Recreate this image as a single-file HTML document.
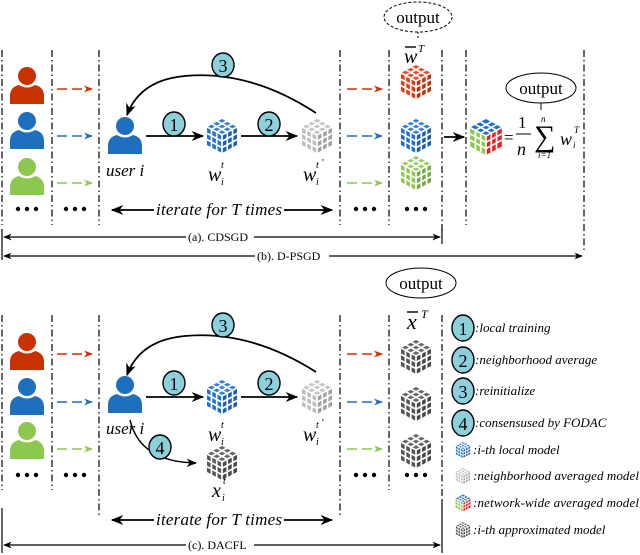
<!DOCTYPE html>
<html><head><meta charset="utf-8"><style>
html,body{margin:0;padding:0;background:#fff;}
svg{display:block;font-family:"Liberation Serif","Times New Roman",serif;}
text{font-family:"Liberation Serif","Times New Roman",serif;}
.it{font-style:italic;}
</style></head><body>
<svg width="640" height="555" viewBox="0 0 640 555" xmlns="http://www.w3.org/2000/svg">
<defs>
<symbol id="cube" viewBox="-16 -18 32 36">
<polygon points="0,-17 15,-9 0,-1 -15,-9" fill="currentColor"/>
<polygon points="-15,-9 0,-1 0,17 -15,9" fill="currentColor"/>
<polygon points="0,-1 15,-9 15,9 0,17" fill="currentColor"/>
<polygon points="0,-1 15,-9 15,9 0,17" fill="#000" opacity="0.15"/>
<polygon points="0,-17 15,-9 0,-1 -15,-9" fill="#fff" opacity="0.12"/>
<g stroke="#fff" stroke-width="1.6" fill="none">
<line x1="-5" y1="-14.33" x2="10" y2="-6.33"/><line x1="-10" y1="-11.67" x2="5" y2="-3.67"/>
<line x1="5" y1="-14.33" x2="-10" y2="-6.33"/><line x1="10" y1="-11.67" x2="-5" y2="-3.67"/>
<line x1="-10" y1="-6.33" x2="-10" y2="11.67"/><line x1="-5" y1="-3.67" x2="-5" y2="14.33"/>
<line x1="-15" y1="-3" x2="0" y2="5"/><line x1="-15" y1="3" x2="0" y2="11"/>
<line x1="5" y1="-3.67" x2="5" y2="14.33"/><line x1="10" y1="-6.33" x2="10" y2="11.67"/>
<line x1="0" y1="5" x2="15" y2="-3"/><line x1="0" y1="11" x2="15" y2="3"/>
<polygon points="0,-17 15,-9 15,9 0,17 -15,9 -15,-9"/><polyline points="-15,-9 0,-1 15,-9"/><line x1="0" y1="-1" x2="0" y2="17"/>
</g>
</symbol>
<symbol id="mcube" viewBox="-16 -18 32 36">
<polygon points="0,-17 15,-9 0,-1 -15,-9" fill="#1f6fd0"/>
<polygon points="-15,-9 0,-1 0,17 -15,9" fill="#8cc850"/>
<polygon points="0,-1 15,-9 15,9 0,17" fill="#e82020"/>
<g stroke="#fff" stroke-width="1.6" fill="none">
<line x1="-5" y1="-14.33" x2="10" y2="-6.33"/><line x1="-10" y1="-11.67" x2="5" y2="-3.67"/>
<line x1="5" y1="-14.33" x2="-10" y2="-6.33"/><line x1="10" y1="-11.67" x2="-5" y2="-3.67"/>
<line x1="-10" y1="-6.33" x2="-10" y2="11.67"/><line x1="-5" y1="-3.67" x2="-5" y2="14.33"/>
<line x1="-15" y1="-3" x2="0" y2="5"/><line x1="-15" y1="3" x2="0" y2="11"/>
<line x1="5" y1="-3.67" x2="5" y2="14.33"/><line x1="10" y1="-6.33" x2="10" y2="11.67"/>
<line x1="0" y1="5" x2="15" y2="-3"/><line x1="0" y1="11" x2="15" y2="3"/>
<polyline points="-15,-9 0,-1 15,-9"/><line x1="0" y1="-1" x2="0" y2="17"/>
</g>
</symbol>
<symbol id="person" viewBox="0 0 36 38">
<circle cx="18" cy="10" r="9" fill="currentColor"/>
<path d="M1,38 L1,30 Q1,21 10,19 Q18,24 26,19 Q35,21 35,30 L35,38 Z" fill="currentColor"/>
</symbol>
<marker id="ah" viewBox="0 0 10 10" refX="9" refY="5" markerWidth="7" markerHeight="7" orient="auto"><path d="M0,1 L10,5 L0,9 L3,5 Z" fill="#000"/></marker>
<marker id="ahs" viewBox="0 0 10 10" refX="1" refY="5" markerWidth="7" markerHeight="7" orient="auto"><path d="M10,1 L0,5 L10,9 L7,5 Z" fill="#000"/></marker>
<marker id="ar" viewBox="0 0 10 10" refX="9" refY="5" markerWidth="6" markerHeight="6" orient="auto"><path d="M0,1 L10,5 L0,9 L3,5 Z" fill="#d03000"/></marker>
<marker id="ab" viewBox="0 0 10 10" refX="9" refY="5" markerWidth="6" markerHeight="6" orient="auto"><path d="M0,1 L10,5 L0,9 L3,5 Z" fill="#1f6fbf"/></marker>
<marker id="ag" viewBox="0 0 10 10" refX="9" refY="5" markerWidth="6" markerHeight="6" orient="auto"><path d="M0,1 L10,5 L0,9 L3,5 Z" fill="#8cc850"/></marker>
<g id="dots"><circle cx="0" cy="0" r="2.2"/><circle cx="9" cy="0" r="2.2"/><circle cx="18" cy="0" r="2.2"/></g>
</defs>

<!-- ===== TOP PANEL ===== -->
<g stroke="#000" stroke-width="1.2" stroke-dasharray="7,3,1.5,3" fill="none">
<line x1="2" y1="50" x2="2" y2="225"/><line x1="52" y1="50" x2="52" y2="225"/><line x1="99" y1="50" x2="99" y2="225"/>
<line x1="340" y1="50" x2="340" y2="225"/><line x1="389" y1="50" x2="389" y2="225"/><line x1="442" y1="50" x2="442" y2="232"/>
<line x1="466" y1="50" x2="466" y2="225"/><line x1="584" y1="50" x2="584" y2="250"/>
</g>
<use href="#person" x="9" y="66" width="36" height="38" color="#c83200"/>
<use href="#person" x="9" y="111" width="36" height="38" color="#1f6fbf"/>
<use href="#person" x="9" y="157" width="36" height="38" color="#8cc850"/>
<use href="#dots" x="18" y="209"/><use href="#dots" x="66" y="209"/><use href="#dots" x="356" y="209"/><use href="#dots" x="407" y="209"/>
<g stroke-width="1.5" stroke-dasharray="10,5">
<line x1="57" y1="89" x2="92" y2="89" stroke="#d03000" marker-end="url(#ar)"/>
<line x1="57" y1="136" x2="92" y2="136" stroke="#1f6fbf" marker-end="url(#ab)"/>
<line x1="57" y1="183" x2="92" y2="183" stroke="#8cc850" marker-end="url(#ag)"/>
<line x1="347" y1="89" x2="382" y2="89" stroke="#d03000" marker-end="url(#ar)"/>
<line x1="347" y1="136" x2="382" y2="136" stroke="#1f6fbf" marker-end="url(#ab)"/>
<line x1="347" y1="183" x2="382" y2="183" stroke="#8cc850" marker-end="url(#ag)"/>
</g>
<use href="#person" x="107" y="116" width="36" height="38" color="#1f6fbf"/>
<text x="106" y="176" font-size="17" class="it">user i</text>
<use href="#cube" x="205" y="117" width="34" height="38" color="#1f6fd0"/>
<use href="#cube" x="300" y="117" width="34" height="38" color="#bdbdbd"/>
<g stroke="#000" stroke-width="1.8" fill="none">
<line x1="146" y1="136" x2="203" y2="136" marker-end="url(#ah)"/>
<line x1="241" y1="136" x2="297" y2="136" marker-end="url(#ah)"/>
<path d="M316,113 Q250,70 185,76 Q140,80 127,115" marker-end="url(#ah)"/>
<line x1="112" y1="210" x2="332" y2="210" marker-start="url(#ahs)" marker-end="url(#ah)"/>
</g>
<rect x="154" y="200" width="130" height="18" fill="#fff"/>
<text x="156" y="215" font-size="17" class="it" textLength="126">iterate for T times</text>
<g fill="#8dd0dc" stroke="#000" stroke-width="1.4">
<ellipse cx="174" cy="124" rx="11" ry="12"/><ellipse cx="269" cy="124" rx="11" ry="12"/><ellipse cx="223" cy="65" rx="11" ry="12"/>
</g>
<g font-size="18" text-anchor="middle"><text x="174" y="131">1</text><text x="269" y="131">2</text><text x="223" y="72">3</text></g>
<text x="208" y="181" font-size="20" class="it">w</text><text x="221" y="168" font-size="10" class="it">t</text><text x="221" y="185" font-size="10" class="it">i</text>
<text x="303" y="181" font-size="20" class="it">w</text><text x="316" y="168" font-size="10" class="it">t</text><text x="322" y="166" font-size="10">'</text><text x="316" y="185" font-size="10" class="it">i</text>
<use href="#cube" x="399" y="63" width="34" height="38" color="#e03a10"/>
<use href="#cube" x="399" y="117" width="34" height="38" color="#1f6fd0"/>
<use href="#cube" x="399" y="154" width="34" height="38" color="#8cc850"/>
<text x="404" y="63" font-size="20" class="it">w</text><line x1="405" y1="47" x2="416" y2="47" stroke="#000" stroke-width="1.4"/><text x="418" y="52" font-size="11" class="it">T</text>
<ellipse cx="418" cy="17" rx="34" ry="15" fill="none" stroke="#000" stroke-width="1" stroke-dasharray="3,2"/>
<text x="418" y="23" font-size="17" text-anchor="middle">output</text>
<line x1="418" y1="32" x2="418" y2="38" stroke="#000" stroke-dasharray="2,2"/>
<line x1="444" y1="137" x2="464" y2="137" stroke="#000" stroke-width="1.8" marker-end="url(#ah)"/>
<use href="#mcube" x="469" y="118" width="34" height="38"/>
<text x="504" y="143" font-size="17">=</text>
<text x="518" y="128" font-size="17">1</text><line x1="516" y1="134" x2="531" y2="134" stroke="#000" stroke-width="1"/><text x="517" y="155" font-size="18" class="it">n</text>
<text x="534" y="146" font-size="30">∑</text>
<text x="541" y="122" font-size="9" class="it">n</text><text x="538" y="158" font-size="9" class="it">i=1</text>
<text x="560" y="145" font-size="18" class="it">w</text><text x="574" y="133" font-size="9" class="it">T</text><text x="573" y="148" font-size="9" class="it">i</text>
<ellipse cx="541" cy="88" rx="35" ry="15" fill="#fff" stroke="#000" stroke-width="1"/>
<text x="541" y="94" font-size="17" text-anchor="middle">output</text>
<line x1="541" y1="103" x2="541" y2="110" stroke="#000"/>
<g stroke="#000" stroke-width="1.2">
<line x1="2" y1="229" x2="2" y2="260"/><line x1="442" y1="229" x2="442" y2="244"/>
<line x1="4" y1="237" x2="440" y2="237" marker-start="url(#ahs)" marker-end="url(#ah)"/>
<line x1="4" y1="256" x2="582" y2="256" marker-start="url(#ahs)" marker-end="url(#ah)"/>
</g>
<rect x="186" y="229" width="68" height="15" fill="#fff"/><text x="188" y="241" font-size="12">(a). CDSGD</text>
<rect x="255" y="248" width="74" height="15" fill="#fff"/><text x="257" y="260" font-size="12">(b). D-PSGD</text>

<!-- ===== BOTTOM PANEL ===== -->
<g stroke="#000" stroke-width="1.2" stroke-dasharray="7,3,1.5,3" fill="none">
<line x1="2" y1="315" x2="2" y2="490"/><line x1="52" y1="315" x2="52" y2="490"/><line x1="99" y1="315" x2="99" y2="518"/>
<line x1="340" y1="315" x2="340" y2="518"/><line x1="389" y1="315" x2="389" y2="490"/><line x1="442" y1="315" x2="442" y2="500"/>
</g>
<use href="#person" x="9" y="332" width="36" height="38" color="#c83200"/>
<use href="#person" x="9" y="377" width="36" height="38" color="#1f6fbf"/>
<use href="#person" x="9" y="421" width="36" height="38" color="#8cc850"/>
<use href="#dots" x="18" y="475"/><use href="#dots" x="66" y="475"/><use href="#dots" x="356" y="475"/><use href="#dots" x="407" y="475"/>
<g stroke-width="1.5" stroke-dasharray="10,5">
<line x1="57" y1="354" x2="92" y2="354" stroke="#d03000" marker-end="url(#ar)"/>
<line x1="57" y1="402" x2="92" y2="402" stroke="#1f6fbf" marker-end="url(#ab)"/>
<line x1="57" y1="449" x2="92" y2="449" stroke="#8cc850" marker-end="url(#ag)"/>
<line x1="347" y1="354" x2="382" y2="354" stroke="#d03000" marker-end="url(#ar)"/>
<line x1="347" y1="402" x2="382" y2="402" stroke="#1f6fbf" marker-end="url(#ab)"/>
<line x1="347" y1="449" x2="382" y2="449" stroke="#8cc850" marker-end="url(#ag)"/>
</g>
<use href="#person" x="107" y="375" width="36" height="38" color="#1f6fbf"/>
<text x="106" y="434" font-size="17" class="it">user i</text>
<use href="#cube" x="205" y="378" width="34" height="38" color="#1f6fd0"/>
<use href="#cube" x="300" y="378" width="34" height="38" color="#bdbdbd"/>
<use href="#cube" x="205" y="444" width="34" height="38" color="#555"/>
<g stroke="#000" stroke-width="1.8" fill="none">
<line x1="146" y1="397" x2="203" y2="397" marker-end="url(#ah)"/>
<line x1="241" y1="397" x2="297" y2="397" marker-end="url(#ah)"/>
<path d="M316,372 Q250,330 185,336 Q140,340 127,375" marker-end="url(#ah)"/>
<path d="M130,420 Q140,462 196,463" stroke-width="1.5" marker-end="url(#ah)"/>
<line x1="112" y1="520" x2="332" y2="520" marker-start="url(#ahs)" marker-end="url(#ah)"/>
</g>
<rect x="154" y="510" width="130" height="18" fill="#fff"/>
<text x="156" y="525" font-size="17" class="it" textLength="126">iterate for T times</text>
<g fill="#8dd0dc" stroke="#000" stroke-width="1.4">
<ellipse cx="174" cy="383" rx="11" ry="12"/><ellipse cx="269" cy="383" rx="11" ry="12"/><ellipse cx="223" cy="325" rx="11" ry="12"/><ellipse cx="160" cy="447" rx="11" ry="12"/>
</g>
<g font-size="18" text-anchor="middle"><text x="174" y="390">1</text><text x="269" y="390">2</text><text x="223" y="332">3</text><text x="160" y="454">4</text></g>
<text x="208" y="441" font-size="20" class="it">w</text><text x="221" y="428" font-size="10" class="it">t</text><text x="221" y="445" font-size="10" class="it">i</text>
<text x="303" y="441" font-size="20" class="it">w</text><text x="316" y="428" font-size="10" class="it">t</text><text x="322" y="426" font-size="10">'</text><text x="316" y="445" font-size="10" class="it">i</text>
<text x="212" y="497" font-size="20" class="it">x</text><text x="223" y="484" font-size="10" class="it">t</text><text x="222" y="501" font-size="10" class="it">i</text>
<use href="#cube" x="399" y="338" width="34" height="38" color="#555"/>
<use href="#cube" x="399" y="385" width="34" height="38" color="#555"/>
<use href="#cube" x="399" y="432" width="34" height="38" color="#555"/>
<text x="407" y="329" font-size="22" class="it">x</text><line x1="407" y1="312" x2="418" y2="312" stroke="#000" stroke-width="1.4"/><text x="421" y="318" font-size="12" class="it">T</text>
<ellipse cx="421" cy="283" rx="35" ry="15" fill="none" stroke="#000" stroke-width="1"/>
<text x="421" y="289" font-size="17" text-anchor="middle">output</text>
<g stroke="#000" stroke-width="1.2">
<line x1="2" y1="508" x2="2" y2="553"/><line x1="442" y1="500" x2="442" y2="553"/>
<line x1="4" y1="545" x2="440" y2="545" marker-start="url(#ahs)" marker-end="url(#ah)"/>
</g>
<rect x="186" y="537" width="68" height="15" fill="#fff"/><text x="188" y="549" font-size="12">(c). DACFL</text>

<!-- legend -->
<g fill="#8dd0dc" stroke="#000" stroke-width="1.4">
<ellipse cx="463" cy="328" rx="11" ry="13"/><ellipse cx="463" cy="360" rx="11" ry="13"/><ellipse cx="463" cy="391" rx="11" ry="13"/><ellipse cx="463" cy="423" rx="11" ry="13"/>
</g>
<g font-size="18" text-anchor="middle"><text x="463" y="335">1</text><text x="463" y="367">2</text><text x="463" y="398">3</text><text x="463" y="430">4</text></g>
<g font-size="13" class="it">
<text x="475" y="332">:local training</text>
<text x="475" y="364">:neighborhood average</text>
<text x="475" y="395">:reinitialize</text>
<text x="475" y="427">:consensused by FODAC</text>
<text x="473" y="454">:i-th local model</text>
<text x="473" y="480" textLength="166">:neighborhood averaged model</text>
<text x="473" y="507" textLength="166">:network-wide averaged model</text>
<text x="473" y="534">:i-th approximated model</text>
</g>
<use href="#cube" x="455" y="441" width="16" height="18" color="#1f6fd0"/>
<use href="#cube" x="455" y="467" width="16" height="18" color="#bdbdbd"/>
<use href="#mcube" x="455" y="494" width="16" height="18"/>
<use href="#cube" x="455" y="521" width="16" height="18" color="#555"/>
</svg>
</body></html>
